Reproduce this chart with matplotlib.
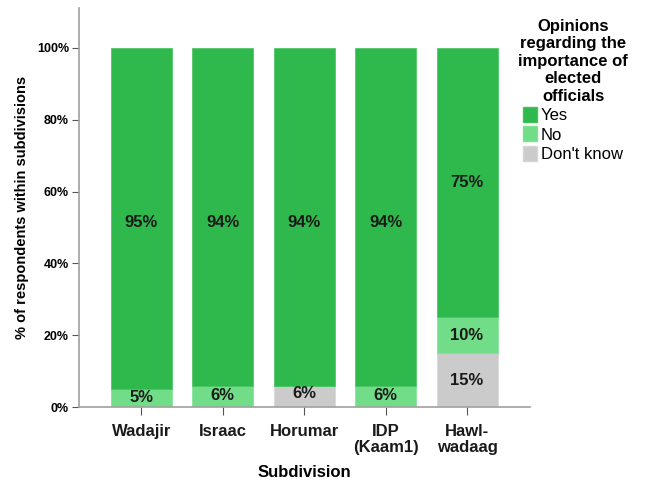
import numpy as np
import matplotlib.pyplot as plt
from matplotlib.patches import Patch

plt.rcParams['font.family'] = ['Liberation Sans', 'DejaVu Sans']

# survey shares per subdivision (percent)
subdivisions = ['Wadajir', 'Israac', 'Horumar', 'IDP\n(Kaam1)', 'Hawl-\nwadaag']
pct_dontknow = [0, 0, 6, 0, 15]
pct_no = [5, 6, 0, 6, 10]
pct_yes = [95, 94, 94, 94, 75]

col_yes = '#2fb84c'
col_no = '#72dd88'
col_dk = '#cbcbcb'

fig = plt.figure(figsize=(6.46, 4.83), dpi=100)
ax = fig.add_axes([0.122, 0.157, 0.698, 0.826])

x = np.arange(len(subdivisions))
w = 0.75
dk = np.array(pct_dontknow)
no = np.array(pct_no)
yes = np.array(pct_yes)

ax.bar(x, dk, w, color=col_dk, edgecolor='#d6d6d6', linewidth=0.5)
ax.bar(x, no, w, bottom=dk, color=col_no, edgecolor='#7fe293', linewidth=0.5)
ax.bar(x, yes, w, bottom=dk + no, color=col_yes, edgecolor='#44c25e', linewidth=0.5)

lbl = dict(ha='center', va='center', fontsize=12, fontweight='bold', color='#1a1a1a')
for i in range(len(x)):
    if dk[i] > 0:
        ax.text(x[i], dk[i] / 2 + (0.8 if dk[i] < 10 else 0), '%d%%' % dk[i], **lbl)
    if no[i] > 0:
        ax.text(x[i], dk[i] + no[i] / 2 + (0.3 if no[i] < 10 else 0), '%d%%' % no[i], **lbl)
    ax.text(x[i], 51.5 if yes[i] > 90 else dk[i] + no[i] + yes[i] / 2, '%d%%' % yes[i], **lbl)

ax.set_xlim(-0.77, 4.77)
ax.set_ylim(0, 111)
ax.set_yticks([0, 20, 40, 60, 80, 100])
ax.set_yticklabels(['0%', '20%', '40%', '60%', '80%', '100%'], fontsize=9, fontweight='bold')
ax.set_xticks(x)
ax.set_xticklabels(subdivisions, fontsize=12, fontweight='bold', color='#1a1a1a', linespacing=1.1)

for s in ['top', 'right']:
    ax.spines[s].set_visible(False)
for s in ['left', 'bottom']:
    ax.spines[s].set_color('#a0a0a0')
    ax.spines[s].set_linewidth(1.2)
ax.tick_params(axis='y', length=5, color='#555555', pad=2)
ax.tick_params(axis='x', length=6, color='#555555', pad=6)

ax.set_ylabel('% of respondents within subdivisions', fontsize=10.5, fontweight='bold', labelpad=6)
ax.set_xlabel('Subdivision', fontsize=12, fontweight='bold', labelpad=7)

handles = [Patch(facecolor=col_yes, edgecolor='#44c25e'),
           Patch(facecolor=col_no, edgecolor='#7fe293'),
           Patch(facecolor=col_dk, edgecolor='#d6d6d6')]
leg = fig.legend(handles, ['Yes', 'No', "Don't know"],
                 title='Opinions\nregarding the\nimportance of\nelected\nofficials',
                 loc='upper left', bbox_to_anchor=(0.784, 0.985), frameon=False,
                 fontsize=12, handlelength=0.85, handleheight=1.0,
                 handletextpad=0.2, labelspacing=0.2, borderaxespad=0.3)
plt.setp(leg.get_title(), fontsize=12, fontweight='bold', multialignment='center', linespacing=1.2)

fig.savefig('out.png', dpi=100)
